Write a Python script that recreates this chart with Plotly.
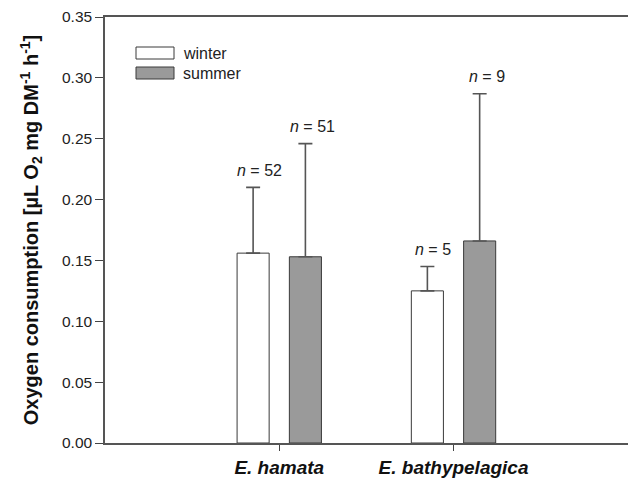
import plotly.graph_objects as go

categories = ["E. hamata", "E. bathypelagica"]
cat_pos = [1, 2]
winter = [0.156, 0.125]
summer = [0.153, 0.166]
winter_err = [0.054, 0.020]
summer_err = [0.093, 0.121]
winter_n = ["52", "5"]
summer_n = ["51", "9"]
yticks = [0.00, 0.05, 0.10, 0.15, 0.20, 0.25, 0.30, 0.35]

off = 0.15
bw = 0.184
edge = "#3a3a3a"
font = "Liberation Sans, Arial, sans-serif"

# the page body adds an 8px margin; figure is sized to compensate
W, H = 628, 471
ML, MR, MT, MB = 97, 3, 9, 36
pw = W - ML - MR
ph = H - MT - MB

fig = go.Figure()
fig.add_trace(go.Bar(
    x=[p - off for p in cat_pos], y=winter, width=bw, name="winter",
    marker=dict(color="white", line=dict(color=edge, width=1)),
    error_y=dict(type="data", array=winter_err, arrayminus=[0, 0], symmetric=False,
                 color="#555555", thickness=1.6, width=7),
    showlegend=False,
))
fig.add_trace(go.Bar(
    x=[p + off for p in cat_pos], y=summer, width=bw, name="summer",
    marker=dict(color="#9a9a9a", line=dict(color=edge, width=1)),
    error_y=dict(type="data", array=summer_err, arrayminus=[0, 0], symmetric=False,
                 color="#555555", thickness=1.6, width=7),
    showlegend=False,
))

for i, p in enumerate(cat_pos):
    fig.add_annotation(x=p - off, y=winter[i] + winter_err[i], xref="x", yref="y",
                       text=f"<i>n</i> = {winter_n[i]}", showarrow=False,
                       yshift=17, xshift=6, font=dict(size=16, color="#222", family=font))
    fig.add_annotation(x=p + off, y=summer[i] + summer_err[i], xref="x", yref="y",
                       text=f"<i>n</i> = {summer_n[i]}", showarrow=False,
                       yshift=17, xshift=7, font=dict(size=16, color="#222", family=font))

# manual legend (page px -> paper coords)
leg = [("winter", "white", 53), ("summer", "#9a9a9a", 73)]
for label, col, yc in leg:
    fig.add_shape(type="rect", xref="paper", yref="paper",
                  x0=(136 - 105) / pw, x1=(174 - 105) / pw,
                  y0=(443 - yc - 6) / ph, y1=(443 - yc + 6) / ph,
                  fillcolor=col, line=dict(color=edge, width=1))
    fig.add_annotation(xref="paper", yref="paper", x=(181 - 105) / pw,
                       y=(443 - yc) / ph, text=label, showarrow=False,
                       xanchor="left", yanchor="middle",
                       font=dict(size=16, color="#222", family=font))

fig.update_layout(
    width=W, height=H,
    margin=dict(l=ML, r=MR, t=MT, b=MB, autoexpand=False),
    paper_bgcolor="white", plot_bgcolor="white",
    font=dict(family=font, color="#222"),
    barmode="overlay",
    xaxis=dict(range=[0, 3.03], tickvals=cat_pos,
               ticktext=[f"<b><i>{c}</i></b>" for c in categories],
               showgrid=False, zeroline=False, showline=True, linecolor="#555",
               linewidth=1.5, mirror=True, ticks="outside", ticklen=6,
               tickcolor="#444", tickfont=dict(size=19, color="#111", family=font)),
    yaxis=dict(range=[0, 0.35], tickvals=yticks,
               ticktext=[f"{v:.2f}" for v in yticks],
               showgrid=False, zeroline=False, showline=True, linecolor="#555",
               linewidth=1.5, mirror=True, ticks="outside", ticklen=8,
               tickcolor="#444", tickfont=dict(size=15.5, color="#222", family=font),
               title=dict(text="<b>Oxygen consumption [µL O<sub>2</sub> mg DM<sup>-1</sup> h<sup>-1</sup>]</b>",
                          font=dict(size=20, color="#111", family=font), standoff=18)),
)

fig.write_html("out.html")
